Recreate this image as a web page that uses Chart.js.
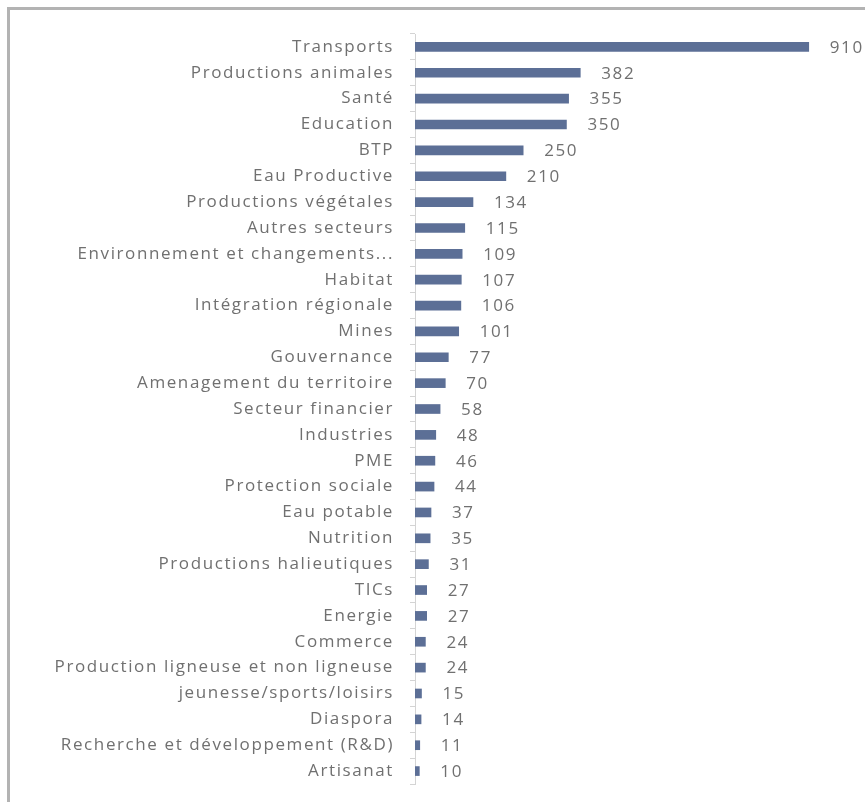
<!DOCTYPE html>
<html>
<head>
<meta charset="utf-8">
<script src="https://cdn.jsdelivr.net/npm/chart.js@4"></script>
<style>
  html, body { margin: 0; padding: 0; background: #fff; }
  #wrap { position: relative; width: 865px; height: 802px; overflow: hidden; }
  #frame {
    position: absolute; left: 7px; top: 7px; right: -10px; bottom: -10px;
    border-left: 3px solid #b3b3b3; border-top: 3px solid #b3b3b3;
  }
  #myChart { position: absolute; left: 0; top: 0; }
</style>
</head>
<body>
<div id="wrap">
  <div id="frame"></div>
  <canvas id="myChart" width="865" height="802"></canvas>
</div>
<script>
const labels = [
  "Transports", "Productions animales", "Santé", "Education", "BTP",
  "Eau Productive", "Productions végétales", "Autres secteurs",
  "Environnement et changements...", "Habitat", "Intégration régionale",
  "Mines", "Gouvernance", "Amenagement du territoire", "Secteur financier",
  "Industries", "PME", "Protection sociale", "Eau potable", "Nutrition",
  "Productions halieutiques", "TICs", "Energie", "Commerce",
  "Production ligneuse et non ligneuse", "jeunesse/sports/loisirs",
  "Diaspora", "Recherche et développement (R&D)", "Artisanat"
];
const values = [
  910, 382, 355, 350, 250, 210, 134, 115, 109, 107, 106, 101, 77, 70, 58,
  48, 46, 44, 37, 35, 31, 27, 27, 24, 24, 15, 14, 11, 10
];

// wide letters like the original picture
const spacing = {
  id: "spacing",
  beforeDraw(chart) {
    chart.ctx.letterSpacing = "1.6px";
  },
  afterDraw(chart) {
    chart.ctx.letterSpacing = "0px";
  },
};

// value labels drawn to the right of each bar
const valueLabels = {
  id: "valueLabels",
  afterDatasetsDraw(chart) {
    const ctx = chart.ctx;
    const meta = chart.getDatasetMeta(0);
    ctx.save();
    ctx.font = "17px 'Open Sans'";
    ctx.fillStyle = "#707070";
    ctx.textBaseline = "middle";
    ctx.textAlign = "left";
    meta.data.forEach((bar, i) => {
      ctx.fillText(String(values[i]), bar.x + 21, bar.y + 1);
    });
    ctx.restore();
  },
};

const canvas = document.getElementById("myChart").getContext("2d");
new Chart(canvas, {
  type: "bar",
  data: {
    labels: labels,
    datasets: [
      {
        data: values,
        backgroundColor: "#5c6f96",
        barThickness: 9,
      },
    ],
  },
  options: {
    indexAxis: "y",
    responsive: false,
    animation: false,
    layout: { padding: { top: 34, bottom: 18, left: 0, right: 0 } },
    plugins: {
      legend: { display: false },
      tooltip: { enabled: false },
    },
    scales: {
      x: {
        display: false,
        min: 0,
        max: 1040,
      },
      y: {
        afterFit: (scale) => {
          scale.width = 415;
          scale.paddingTop = 0;
          scale.paddingBottom = 0;
        },
        border: { display: true, color: "#d4d4d4", width: 1 },
        grid: {
          display: true,
          drawOnChartArea: false,
          drawTicks: true,
          tickLength: 5,
          color: "#d4d4d4",
          offset: true,
        },
        ticks: {
          color: "#707070",
          padding: 16,
          font: { family: "'Open Sans'", size: 17 },
          autoSkip: false,
        },
      },
    },
  },
  plugins: [spacing, valueLabels],
});
</script>
</body>
</html>
